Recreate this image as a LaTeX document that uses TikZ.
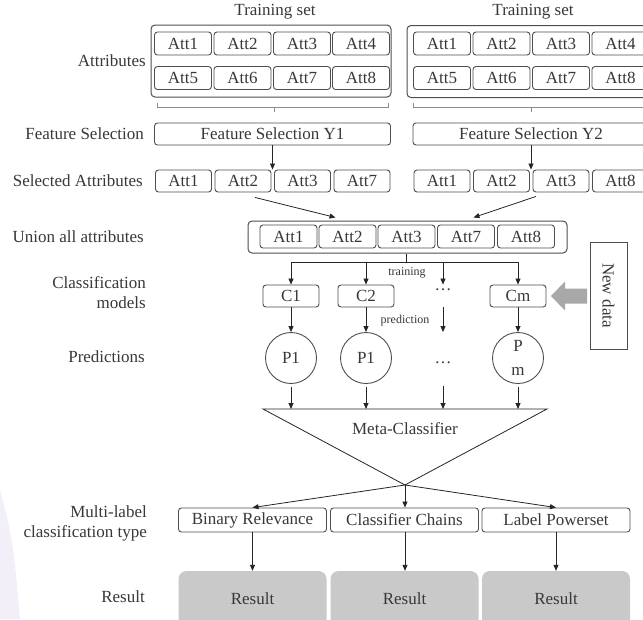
\documentclass[tikz,border=0pt]{standalone}
\usepackage{fontspec}
\usepackage{graphicx}
\setmainfont{Liberation Serif}
\usetikzlibrary{arrows.meta,calc}
\definecolor{txt}{HTML}{383838}
\definecolor{ln}{HTML}{4F4F4F}
\definecolor{resfill}{HTML}{C9C9C9}
\definecolor{blockarr}{HTML}{A8A8A8}
\definecolor{lav}{HTML}{F3EFF9}
\tikzset{
  base/.style={text=txt, font=\fontsize{17}{20}\selectfont, inner sep=0pt},
  box/.style={base, draw=ln, line width=0.9pt, rounded corners=3pt, minimum height=23pt},
  att/.style={box, minimum width=57pt},
  satt/.style={box, minimum width=56pt, minimum height=22pt},
  frame/.style={draw=ln, line width=1pt, rounded corners=4pt},
  lbl/.style={base, anchor=east, align=right},
  small/.style={text=txt, font=\fontsize{12}{14}\selectfont, inner sep=0pt},
  arr/.style={draw=black!85, line width=0.8pt, -{Triangle[length=6pt,width=5pt]}},
  plain/.style={draw=black!85, line width=0.8pt},
  brk/.style={draw=black!45, line width=0.6pt},
  pred/.style={base, circle, draw=ln, line width=0.9pt, minimum size=51pt},
  mlbox/.style={box, minimum width=148pt, minimum height=24pt},
  resbox/.style={base, fill=resfill, rounded corners=8pt, minimum width=148pt, minimum height=56pt},
}
\begin{document}
\begin{tikzpicture}[x=1pt,y=-1pt]
\useasboundingbox (0,0) rectangle (643,619);
\clip (0,0) rectangle (643,619);
\fill[white] (0,0) rectangle (643,619);
% soft tint in the lower left corner
\fill[lav] (0,490) .. controls (13,540) .. (20,619) -- (0,619) -- cycle;

% ---- training sets ----
\node[base] (tl1) at (275,12) {Training set};
\node[base] (tl2) at (533,12) {Training set};
\node[frame, minimum width=240pt, minimum height=72pt] (ts1) at (271,61) {};
\node[frame, minimum width=243pt, minimum height=72pt] (ts2) at (528.5,61.5) {};
\foreach \i/\x in {1/183,2/242.5,3/302,4/361}
  \node[att] (a\i) at (\x,43.5) {Att\i};
\foreach \i/\x in {5/183,6/242.5,7/302,8/361}
  \node[att] (a\i) at (\x,78) {Att\i};
\foreach \i/\x in {1/442,2/501.5,3/561,4/620.5}
  \node[att] (b\i) at (\x,43.5) {Att\i};
\foreach \i/\x in {5/442,6/501.5,7/561,8/620.5}
  \node[att] (b\i) at (\x,78) {Att\i};

% braces under the training sets
\draw[brk] (157,103) |- (388,107) -- (388,103);
\draw[brk] (274,107) -- (274,112);
\draw[brk] (413,103) |- (650,107);
\draw[brk] (531,107) -- (531,112);

% ---- feature selection ----
\node[box, minimum width=236pt, minimum height=22pt] (fs1) at (272.5,134) {Feature Selection Y1};
\node[box, minimum width=236pt, minimum height=22pt] (fs2) at (531,134) {Feature Selection Y2};

% ---- selected attributes ----
\foreach \i/\x/\t in {1/183.5/Att1,2/243/Att2,3/302.5/Att3,4/362/Att7}
  \node[satt] (s\i) at (\x,181) {\t};
\foreach \i/\x/\t in {1/442/Att1,2/501.5/Att2,3/561/Att3,4/620.5/Att8}
  \node[satt] (r\i) at (\x,181) {\t};
\draw[arr] (fs1.south) -- (fs1.south |- s2.north);
\draw[arr] (fs2.south) -- (fs2.south |- r3.north);

% ---- union of attributes ----
\node[frame, minimum width=319pt, minimum height=32pt] (un) at (407.5,237) {};
\foreach \i/\x/\t in {1/288.5/Att1,2/347.5/Att2,3/406.5/Att3,4/466/Att7,5/526/Att8}
  \node[att] (u\i) at (\x,236.5) {\t};
\draw[arr] ([xshift=12pt,yshift=-5pt]s2.south) -- ([xshift=-72pt,yshift=3pt]un.north);
\draw[arr] ([xshift=-25pt,yshift=-4pt]r3.south) -- ([xshift=66pt,yshift=3pt]un.north);

% ---- classification models ----
\node[satt] (c1) at (291,296) {C1};
\node[satt] (c2) at (366,296) {C2};
\node[satt] (cm) at (518,296) {Cm};
\node[base] (dots1) at (443,290) {\dots};
\coordinate (tj) at (406.5,262);
\draw[plain] (u3.south |- un.south) -- (tj);
\draw[plain] (c1 |- tj) -- (cm |- tj);
\draw[arr] (c1 |- tj) -- (c1.north);
\draw[arr] (c2 |- tj) -- (c2.north);
\draw[arr] (cm |- tj) -- (cm.north);
\draw[arr] (dots1 |- tj) -- (dots1 |- c2.north);
\node[small] (trn) at (407,273) {training};
\node[small] (prd) at (405,321) {prediction};

% ---- new data ----
\node[base, draw=ln, line width=0.9pt, minimum width=37pt, minimum height=107pt] (nd) at (608.5,295.5) {\rotatebox{-90}{New data}};
\fill[blockarr] (587,288.5) -- (565,288.5) -- (565,281.5) -- (551,296) -- (565,310.5) -- (565,303.5) -- (587,303.5) -- cycle;

% ---- predictions ----
\node[pred] (p1) at (291,358) {P1};
\node[pred] (p2) at (366,358) {P1};
\node[pred, align=center, font=\fontsize{17}{24}\selectfont] (pm) at (518,358) {P\\m};
\node[base] (dots2) at (443,363) {\dots};
\draw[arr] (c1.south) -- (p1.north);
\draw[arr] (c2.south) -- (p2.north);
\draw[arr] (cm.south) -- (pm.north);
\draw[arr] (dots1 |- c2.south) -- (dots1 |- p2.north);

% ---- meta-classifier ----
\coordinate (tl) at (263,409);
\coordinate (tr) at (547,409);
\coordinate (apex) at (405,485);
\draw[plain, line join=miter] (tl) -- (tr) -- (apex) -- cycle;
\node[base] (meta) at (405,429) {Meta-Classifier};
\draw[arr] ([yshift=-3pt]p1.south) -- (p1 |- tl);
\draw[arr] ([yshift=-3pt]p2.south) -- (p2 |- tl);
\draw[arr] ([yshift=-3pt]pm.south) -- (pm |- tl);
\draw[arr] (dots2 |- 0,386) -- (dots2 |- tl);

% ---- multi-label classification ----
\node[mlbox] (br) at (252.5,520) {Binary Relevance};
\node[mlbox] (cc) at (404.5,520) {Classifier Chains};
\node[mlbox] (lp) at (556,520) {Label Powerset};
\draw[arr] (apex) -- (br.north);
\draw[arr] (apex) -- (apex |- cc.north);
\draw[arr] (apex) -- (lp.north);

% ---- results ----
\node[resbox] (res1) at (252.5,599) {Result};
\node[resbox] (res2) at (404.5,599) {Result};
\node[resbox] (res3) at (556,599) {Result};
\draw[arr] (br.south) -- (res1.north);
\draw[arr] (br.south -| apex) -- (res2.north -| apex);
\draw[arr] (lp.south) -- (res3.north);

% ---- row labels ----
\node[lbl] (lab1) at (146,61) {Attributes};
\node[lbl] (lab2) at (144,134) {Feature Selection};
\node[lbl] (lab3) at (143,181) {Selected Attributes};
\node[lbl] (lab4) at (144,237) {Union all attributes};
\node[lbl, font=\fontsize{17}{20}\selectfont] (lab5) at (146,293) {Classification\\models};
\node[lbl] (lab6) at (145,357) {Predictions};
\node[lbl, font=\fontsize{17}{20}\selectfont] (lab7) at (147,523) {Multi-label\\classification type};
\node[lbl] (lab8) at (145,597) {Result};
\end{tikzpicture}
\end{document}
